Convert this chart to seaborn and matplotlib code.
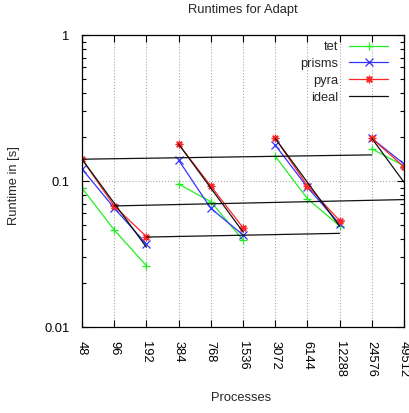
import numpy as np
import pandas as pd
import matplotlib
matplotlib.use("Agg")
import matplotlib.pyplot as plt
import seaborn as sns
from matplotlib.ticker import LogLocator, NullFormatter

# process counts (categorical x axis) and the run group each point belongs to
procs = ["48", "96", "192", "384", "768", "1536", "3072", "6144", "12288", "24576", "49512"]
group = [0, 0, 0, 1, 1, 1, 2, 2, 2, 3, 3]

# runtimes in seconds
tet = [0.0896, 0.0462, 0.0263, 0.0953, 0.0722, 0.0394, 0.148, 0.0757, 0.0492, 0.166, 0.127]
prisms = [0.121, 0.0653, 0.0370, 0.139, 0.0650, 0.0427, 0.1765, 0.0905, 0.0508, 0.196, 0.131]
pyra = [0.141, 0.0675, 0.0416, 0.179, 0.0924, 0.0479, 0.196, 0.0929, 0.0535, 0.196, 0.125]

# ideal lines: strong scaling diagonals + the nearly flat connecting lines
ideal_x = ["48", "96", "192", "384", "768", "1536", "3072", "6144", "12288", "24576", "49512",
           "48", "24576", "96", "49512", "192", "12288"]
ideal_y = [0.141, 0.0705, 0.0352, 0.179, 0.0895, 0.0448, 0.196, 0.098, 0.049, 0.196, 0.098,
           0.141, 0.151, 0.0675, 0.0746, 0.0413, 0.0438]
ideal_seg = [0, 0, 0, 1, 1, 1, 2, 2, 2, 3, 3, 4, 4, 5, 5, 6, 6]

sns.set_style("ticks")
plt.rcParams["font.family"] = ["Liberation Sans", "DejaVu Sans"]
plt.rcParams["font.size"] = 9.3

pos = {p: i for i, p in enumerate(procs)}

fig = plt.figure(figsize=(4.09, 4.13), dpi=100)
ax = fig.add_axes([82 / 409, 1 - 327 / 413, (404 - 82) / 409, (327 - 35) / 413])

series = {
    "tet": ("#22ee22", "+", procs, tet, group),
    "prisms": ("#3333ff", "x", procs, prisms, group),
    "pyra": ("#ff2828", (8, 2, 0), procs, pyra, group),
    "ideal": ("#111111", None, ideal_x, ideal_y, ideal_seg),
}

handles = []
for name, (color, marker, xs, ys, units) in series.items():
    df = pd.DataFrame({"pos": [pos[p] for p in xs], "runtime": ys, "unit": units})
    n0 = len(ax.lines)
    sns.lineplot(data=df, x="pos", y="runtime", units="unit", estimator=None,
                 color=color, marker=marker, ms=5.5, lw=0.9, legend=False, ax=ax)
    for ln in ax.lines[n0:]:
        ln.set_markeredgecolor(color)
        ln.set_markerfacecolor(color)
        ln.set_markeredgewidth(0.9)
    handles.append(ax.lines[n0])

ax.set_yscale("log")
ax.set_ylim(0.01, 1)
ax.set_xlim(0, len(procs) - 1)
ax.set_yticks([0.01, 0.1, 1])
ax.set_yticklabels(["0.01", "0.1", "1"])
ax.yaxis.set_minor_locator(LogLocator(base=10, subs=np.arange(2, 10)))
ax.yaxis.set_minor_formatter(NullFormatter())
ax.set_xticks(range(len(procs)))
ax.set_xticklabels(procs, rotation=270, ha="center", va="top")

ax.tick_params(axis="both", which="both", direction="in", top=True, right=True,
               colors="black", width=0.8)
ax.tick_params(axis="both", which="major", length=5)
ax.tick_params(axis="both", which="minor", length=3)
ax.tick_params(axis="x", pad=10)
ax.tick_params(axis="y", pad=9)
for s in ax.spines.values():
    s.set_color("black")
    s.set_linewidth(0.9)

ax.grid(True, which="major", ls=":", color="#aaaaaa", lw=0.8)

ax.set_title("Runtimes for Adapt", fontsize=9.3, pad=16)
ax.set_xlabel("Processes")
ax.xaxis.set_label_coords(0.494, -0.223)
ax.set_ylabel("Runtime in [s]")
ax.yaxis.set_label_coords(-0.191, 0.483)

ax.legend(handles, list(series.keys()), loc="upper right", frameon=False,
          markerfirst=False, handlelength=3.0, labelspacing=0.37,
          handletextpad=0.85, borderpad=0, borderaxespad=0,
          bbox_to_anchor=((388 - 82) / 322, (327 - 41) / 292))

fig.savefig("out.png", dpi=100)
